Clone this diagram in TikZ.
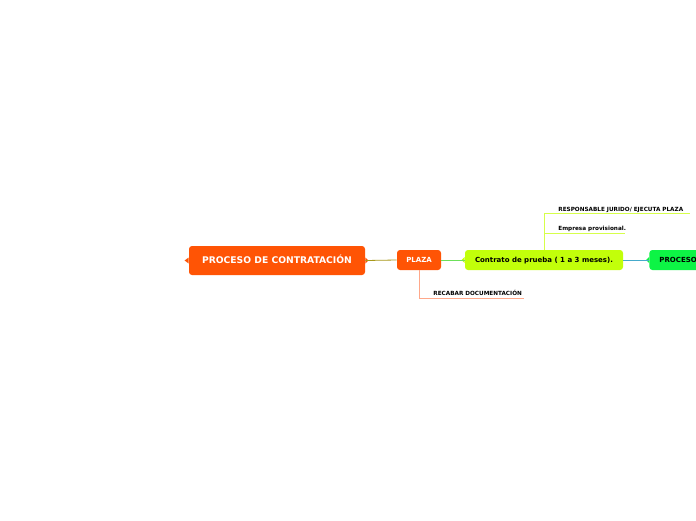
\documentclass[tikz,border=0pt]{standalone}
\usepackage{fontspec}
\setmainfont{DejaVu Sans}
\definecolor{orangeA}{HTML}{FF5405}
\definecolor{limeA}{HTML}{C2FF0A}
\definecolor{greenA}{HTML}{0DF445}
\definecolor{oliveL}{HTML}{A8981A}
\definecolor{greenL}{HTML}{6CE05A}
\definecolor{tealL}{HTML}{45AACB}
\definecolor{limeL}{HTML}{D6FF4A}
\definecolor{salmonL}{HTML}{FFA88A}

\begin{document}
\begin{tikzpicture}[x=1pt,y=-1pt,line width=0.8pt,
  topic/.style={rounded corners=3pt,minimum height=20pt,inner sep=0pt,align=center,
    text height=5.1pt,text depth=0pt,font=\fontsize{7}{8}\selectfont\bfseries},
  sublabel/.style={anchor=base west,inner sep=0pt,font=\fontsize{5.7}{6.5}\selectfont\bfseries}]
  \useasboundingbox[fill=white] (0,0) rectangle (696,520);

  \node[topic,fill=orangeA,text=white,minimum width=176pt,minimum height=29pt,text height=6.7pt,
    font=\fontsize{9.2}{10}\selectfont\bfseries] (root) at (277,260.5) {PROCESO DE CONTRATACIÓN};
  \node[topic,fill=orangeA,text=white,minimum width=44pt] (plaza) at (419,260) {PLAZA};
  \node[topic,fill=limeA,minimum width=158pt] (contrato) at (544,260) {Contrato de prueba ( 1 a 3 meses).};
  \node[topic,fill=greenA,anchor=west,inner xsep=10pt] (proceso) at (649,260) {PROCESO};

  \fill[orangeA] (root.west) ++(0,-3) -- ++(-4,3) -- ++(4,3) -- cycle;
  \fill[orangeA] (root.east) ++(0,-3) -- ++(3,3) -- ++(-3,3) -- cycle;
  \fill[limeA] (contrato.west) ++(0,-3) -- ++(-3,3) -- ++(3,3) -- cycle;
  \fill[greenA] (proceso.west) ++(0,-3) -- ++(-3,3) -- ++(3,3) -- cycle;

  \coordinate (resp) at (690,213);
  \coordinate (empr) at (625,233);
  \coordinate (reca) at (524,298);
  \node[sublabel] (respL) at (558,211.3) {RESPONSABLE JURIDO/ EJECUTA PLAZA};
  \node[sublabel] (emprL) at (558,230.3) {Empresa provisional.};
  \node[sublabel] (recaL) at (433,295.3) {RECABAR DOCUMENTACIÓN};

  \draw[oliveL] (root.east) -- (plaza.west);
  \draw[greenL] (plaza.east) -- (contrato.west);
  \draw[tealL] (contrato.east) -- (proceso.west);
  \draw[limeL] (contrato.north) |- (resp);
  \draw[limeL] (contrato.north) |- (empr);
  \draw[salmonL] (plaza.south) |- (reca);
\end{tikzpicture}
\end{document}
